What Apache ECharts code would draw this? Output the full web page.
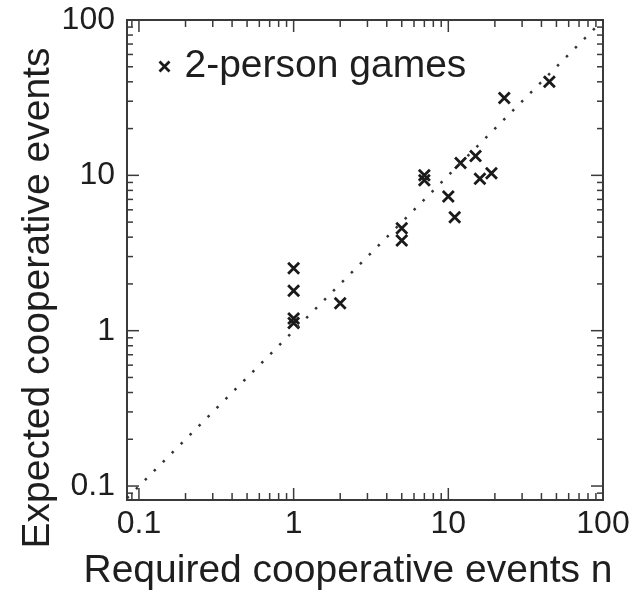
<!DOCTYPE html>
<html>
<head>
<meta charset="utf-8">
<script src="https://cdn.jsdelivr.net/npm/echarts@6/dist/echarts.min.js"></script>
<style>html,body{margin:0;padding:0;background:#fff}#c{width:635px;height:592px}</style>
</head>
<body>
<div id="c"></div>
<script>
// ---- data ----
const seriesName = '2-person games';
const xValues = [1, 1, 1, 1, 2, 5, 5, 7, 7, 10, 11, 12, 15, 16, 19, 23, 45];
const yValues = [2.52, 1.81, 1.2, 1.12, 1.50, 4.57, 3.81, 10.0, 9.3, 7.32, 5.38, 12.0, 13.3, 9.5, 10.3, 31.5, 40.0];
const majorTicks = [0.1, 1, 10, 100];
const tickLabels = ['0.1', '1', '10', '100'];
const minorMultipliers = [2, 3, 4, 5, 6, 7, 8, 9];
const minorDecades = [0.01, 0.1, 1, 10];
const xTitle = 'Required cooperative events n';
const yTitle = 'Expected cooperative events';
const xMin = 0.0837, yMin = 0.0813, axisMax = 100;

const FONT = '"Liberation Sans", Arial, Helvetica, sans-serif';
const INK = '#1e1e1e';

const points = xValues.map((x, i) => [x, yValues[i]]);

// tick items: [value, isMajor]
const tickItems = [];
majorTicks.forEach(v => tickItems.push([v, 1]));
minorDecades.forEach(d => minorMultipliers.forEach(m => tickItems.push([+(d * m).toPrecision(6), 0])));

function labelFor(v) {
  const l = Math.log10(v);
  if (Math.abs(l - Math.round(l)) > 1e-6) return '';
  const idx = majorTicks.findIndex(t => Math.abs(Math.log10(t) - l) < 1e-6);
  return idx >= 0 ? tickLabels[idx] : '';
}

const chart = echarts.init(document.getElementById('c'), null, {renderer: 'canvas'});

const tickColor = '#3a3a3a';
function xTickRender(params, api) {
  const v = api.value(0);
  if (v < xMin || v > axisMax) return null;
  const cs = params.coordSys;
  const len = api.value(1) ? 12 : 7;
  const px = api.coord([v, 1])[0];
  const bottom = cs.y + cs.height;
  return {type: 'group', children: [
    {type: 'line', shape: {x1: px, y1: bottom, x2: px, y2: bottom - len}, style: {stroke: tickColor, lineWidth: 1.5}},
    {type: 'line', shape: {x1: px, y1: cs.y, x2: px, y2: cs.y + len}, style: {stroke: tickColor, lineWidth: 1.5}}
  ]};
}
function yTickRender(params, api) {
  const v = api.value(0);
  if (v < yMin || v > axisMax) return null;
  const cs = params.coordSys;
  const len = api.value(1) ? 12 : 6;
  const py = api.coord([1, v])[1];
  const right = cs.x + cs.width;
  return {type: 'group', children: [
    {type: 'line', shape: {x1: cs.x, y1: py, x2: cs.x + len, y2: py}, style: {stroke: tickColor, lineWidth: 1.5}},
    {type: 'line', shape: {x1: right, y1: py, x2: right - len, y2: py}, style: {stroke: tickColor, lineWidth: 1.5}}
  ]};
}

const crossPath = 'path://M0,0L10,10M10,0L0,10';

chart.setOption({
  animation: false,
  backgroundColor: '#fff',
  grid: {left: 127, top: 20, width: 476, height: 480, show: true, borderColor: '#3a3a3a', borderWidth: 2, backgroundColor: 'transparent', containLabel: false},
  xAxis: {
    type: 'log', logBase: 10, min: xMin, max: axisMax,
    axisLine: {show: false}, axisTick: {show: false}, splitLine: {show: false}, minorTick: {show: false},
    axisLabel: {formatter: labelFor, fontSize: 32, fontFamily: FONT, color: INK, margin: 8, showMinLabel: true, showMaxLabel: true, hideOverlap: false}
  },
  yAxis: {
    type: 'log', logBase: 10, min: yMin, max: axisMax,
    axisLine: {show: false}, axisTick: {show: false}, splitLine: {show: false}, minorTick: {show: false},
    axisLabel: {formatter: labelFor, fontSize: 32, fontFamily: FONT, color: INK, margin: 12, showMinLabel: true, showMaxLabel: true, hideOverlap: false}
  },
  legend: {
    show: true, left: 157, top: 47, orient: 'horizontal', padding: 0,
    itemWidth: 10, itemHeight: 10,
    data: [{name: seriesName, icon: crossPath, itemStyle: {color: 'none', borderColor: '#1a1a1a', borderWidth: 2.8}}],
    textStyle: {fontSize: 39, fontFamily: FONT, color: INK, padding: [0, 0, 0, 10]}
  },
  graphic: [
    {type: 'text', x: 348, y: 571, style: {text: xTitle, font: '39px ' + FONT, fill: INK, textAlign: 'center', textVerticalAlign: 'middle'}},
    {type: 'text', x: 38, y: 298, rotation: Math.PI / 2, style: {text: yTitle, font: '39px ' + FONT, fill: INK, textAlign: 'center', textVerticalAlign: 'middle'}}
  ],
  series: [
    {
      type: 'line', silent: true, symbol: 'none', legendHoverLink: false,
      data: [[xMin, xMin], [axisMax, axisMax]],
      lineStyle: {color: '#333', width: 2.5, type: [2.5, 10.2]}
    },
    {type: 'custom', silent: true, renderItem: xTickRender, data: tickItems, clip: false, encode: {x: 0}},
    {type: 'custom', silent: true, renderItem: yTickRender, data: tickItems, clip: false, encode: {y: 0}},
    {
      name: seriesName, type: 'scatter', data: points,
      symbol: crossPath, symbolSize: 11,
      itemStyle: {color: 'none', borderColor: '#1a1a1a', borderWidth: 2.8, opacity: 1}
    }
  ]
});
</script>
</body>
</html>
